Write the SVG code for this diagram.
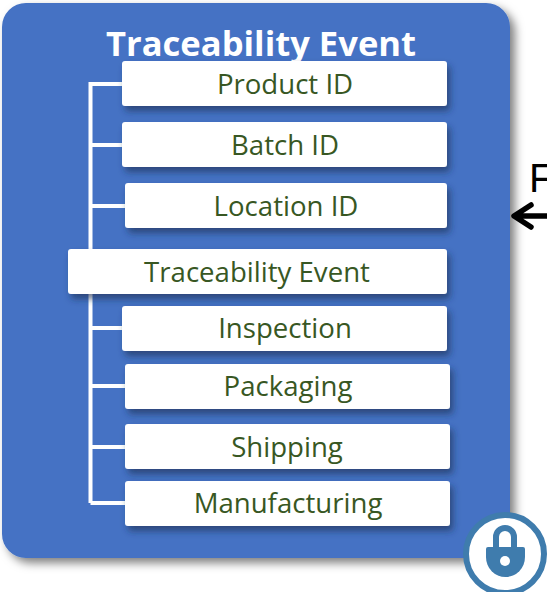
<svg xmlns="http://www.w3.org/2000/svg" width="547" height="592" viewBox="0 0 547 592">
<style>
.t{font-family:"Open Sans","Noto Sans","Liberation Sans",sans-serif}
.b{fill:#fff;filter:url(#s)}
.l{font-size:27.6px;fill:#385723;text-anchor:middle}
.c{fill:none;stroke:#fff;stroke-width:4}
</style>
<defs>
<filter id="s" x="-10%" y="-30%" width="120%" height="170%"><feDropShadow dx="3" dy="5" stdDeviation="3.5" flood-color="#1f2f55" flood-opacity=".65"/></filter>
<filter id="p" x="-5%" y="-5%" width="112%" height="112%"><feDropShadow dx="5" dy="5" stdDeviation="5" flood-color="#000" flood-opacity=".5"/></filter>
</defs>
<rect x="0" y="0" width="547" height="592" fill="#fff"/>
<g id="panel">
<rect x="2" y="3" width="508" height="555" rx="24" fill="#4472c4" filter="url(#p)"/>
<text class="t" x="261" y="56" font-size="34.6" font-weight="700" fill="#fff" text-anchor="middle">Traceability Event</text>
</g>
<g id="connectors">
<path class="c" d="M90.500 503V84H122M90.500 145H122M90.500 206H125M90.500 328H122M90.500 386H125M90.500 447H125M90.500 503H125"/>
</g>
<g id="n-product"><rect class="b" x="122" y="61" width="325" height="45" rx="3"/><text class="t l" x="285" y="94">Product ID</text></g>
<g id="n-batch"><rect class="b" x="122" y="122" width="325" height="45" rx="3"/><text class="t l" x="285" y="155">Batch ID</text></g>
<g id="n-location"><rect class="b" x="125" y="183" width="322" height="45" rx="3"/><text class="t l" x="286" y="216">Location ID</text></g>
<g id="n-event"><rect class="b" x="68" y="249" width="379" height="45" rx="3"/><text class="t l" x="257" y="282">Traceability Event</text></g>
<g id="n-inspection"><rect class="b" x="122" y="306" width="325" height="45" rx="3"/><text class="t l" x="285" y="338">Inspection</text></g>
<g id="n-packaging"><rect class="b" x="125" y="364" width="325" height="45" rx="3"/><text class="t l" x="288" y="396">Packaging</text></g>
<g id="n-shipping"><rect class="b" x="125" y="424" width="325" height="45" rx="3"/><text class="t l" x="287" y="457">Shipping</text></g>
<g id="n-manufacturing"><rect class="b" x="125" y="481" width="325" height="45" rx="3"/><text class="t l" x="288" y="513">Manufacturing</text></g>
<g id="arrow">
<text x="529" y="192" font-family="'Liberation Sans',sans-serif" font-size="40" fill="#000">F</text>
<path d="M547 216H515M531 205L514 216L531 227" fill="none" stroke="#000" stroke-width="5.500" stroke-linecap="round" stroke-linejoin="round"/>
</g>
<g id="lock">
<circle cx="505" cy="554" r="39" fill="#fff" stroke="#3f7cad" stroke-width="6"/>
<path d="M496 549V537A9 9 0 0 1 514 537V549" fill="none" stroke="#3f7cad" stroke-width="6"/>
<path d="M488 547H523Q525 547 525 549V557A19.500 20 0 0 1 486 557V549Q486 547 488 547Z" fill="#3f7cad"/>
<circle cx="505" cy="561" r="5" fill="#fff"/>
</g>
</svg>
